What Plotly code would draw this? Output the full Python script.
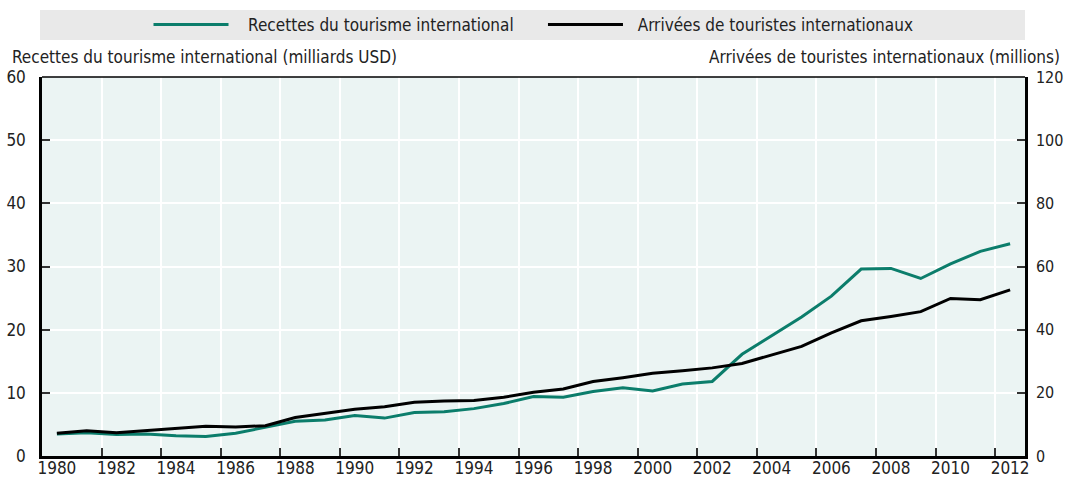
import plotly.graph_objects as go

years = list(range(1980, 2013))
recettes = [3.5, 3.7, 3.4, 3.5, 3.2, 3.1, 3.6, 4.6, 5.5, 5.7, 6.4, 6.0, 6.9, 7.0, 7.5, 8.3,
            9.4, 9.3, 10.2, 10.8, 10.3, 11.4, 11.8, 16.1, 19.1, 22.0, 25.3, 29.6, 29.7, 28.1,
            30.4, 32.4, 33.6]
arrivees = [7.2, 8.0, 7.4, 8.0, 8.6, 9.4, 9.2, 9.6, 12.2, 13.4, 14.8, 15.6, 17.0, 17.4, 17.6,
            18.6, 20.2, 21.2, 23.6, 24.8, 26.2, 27.0, 27.9, 29.3, 32.1, 34.7, 39.0, 42.8, 44.2,
            45.7, 49.9, 49.5, 52.6]
label_years = list(range(1980, 2013, 2))
tick_bounds = [y - 0.5 for y in range(1982, 2013, 2)]
left_ticks = [0, 10, 20, 30, 40, 50, 60]
right_ticks = [0, 20, 40, 60, 80, 100, 120]

GREEN = "#0B7D6B"
FONT = "DejaVu Sans Condensed, sans-serif"
FS = 17
NB = "\u00a0"

PT, PB, PL, PR = 77, 31, 42, 41
PH = 487 - PT - PB
PW = 1066 - PL - PR

fig = go.Figure()
fig.add_trace(go.Scatter(x=years, y=recettes, mode="lines",
                         name=NB * 3 + "Recettes du tourisme international" + NB * 5,
                         line=dict(color=GREEN, width=3), yaxis="y"))
fig.add_trace(go.Scatter(x=years, y=arrivees, mode="lines",
                         name=NB * 2 + "Arrivées de touristes internationaux",
                         line=dict(color="black", width=3), yaxis="y2"))

xr = [1979.5, 2012.5]
fig.update_layout(
    width=1066, height=487,
    margin=dict(l=PL, r=PR, t=PT, b=PB, autoexpand=False),
    paper_bgcolor="white",
    plot_bgcolor="#EBF4F3",
    font=dict(family=FONT, size=FS, color="#222222"),
    showlegend=True,
    legend=dict(orientation="h", x=0.5, xanchor="center", y=1 + (PT - 25) / PH, yanchor="middle",
                bgcolor="rgba(0,0,0,0)", font=dict(size=FS),
                itemwidth=75, traceorder="normal"),
    xaxis=dict(range=xr, tickvals=tick_bounds, ticktext=["" for _ in tick_bounds],
               ticks="inside", ticklen=8, tickwidth=1.5, tickcolor="#333",
               showgrid=True, gridcolor="white", gridwidth=2,
               showline=True, linecolor="black", linewidth=2.5, mirror=False, zeroline=False),
    xaxis2=dict(range=xr, overlaying="x", side="bottom", tickvals=label_years,
                ticktext=[str(y) for y in label_years], ticks="", showgrid=False,
                showline=False, zeroline=False, tickfont=dict(size=FS), anchor="y"),
    yaxis=dict(range=[0, 60], tickvals=left_ticks, ticks="inside", ticklen=8, tickwidth=1.5,
               tickcolor="#333", showgrid=True, gridcolor="white", gridwidth=2,
               showline=True, linecolor="black", linewidth=2.5, zeroline=False,
               tickfont=dict(size=FS), ticklabelstandoff=10),
    yaxis2=dict(range=[0, 120], tickvals=right_ticks, overlaying="y", side="right",
                ticks="inside", ticklen=8, tickwidth=1.5, tickcolor="#333", showgrid=False,
                showline=True, linecolor="black", linewidth=2.5, zeroline=False,
                tickfont=dict(size=16), ticklabelstandoff=5),
)
fig.add_trace(go.Scatter(x=[years[0]], y=[recettes[0]], xaxis="x2", mode="markers",
                         marker=dict(opacity=0), showlegend=False, hoverinfo="skip"))

fig.add_shape(type="line", xref="paper", yref="paper", x0=0, x1=1, y0=1, y1=1,
              line=dict(color="black", width=1.5))
fig.add_shape(type="rect", xref="paper", yref="paper", x0=-2 / PW, x1=1.0,
              y0=1 + (PT - 40) / PH, y1=1 + (PT - 10) / PH,
              fillcolor="#E9E9E9", line=dict(width=0), layer="below")

fig.add_annotation(text="Recettes du tourisme international (milliards USD)", xref="paper", yref="paper",
                   x=-(PL - 10) / PW, y=1 + (PT - 57) / PH, xanchor="left", yanchor="middle",
                   showarrow=False, font=dict(size=FS))
fig.add_annotation(text="Arrivées de touristes internationaux (millions)", xref="paper", yref="paper",
                   x=1 + (PR - 4) / PW, y=1 + (PT - 57) / PH, xanchor="right", yanchor="middle",
                   showarrow=False, font=dict(size=FS))

fig.write_html("out.html", config={"displayModeBar": False},
               post_script="document.body.style.margin='0px';")
